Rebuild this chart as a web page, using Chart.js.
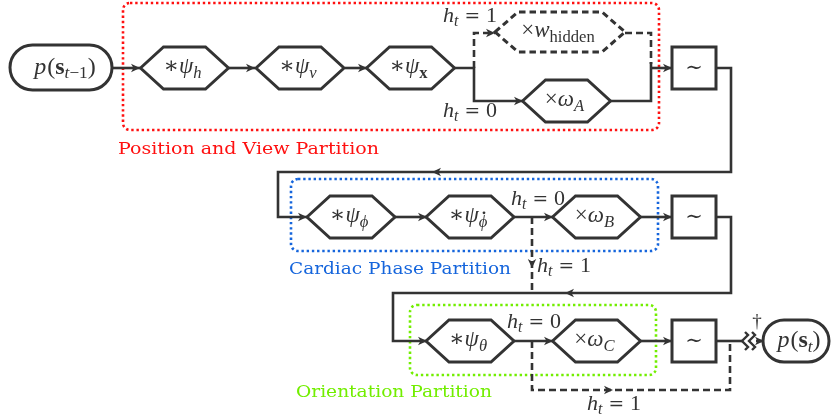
<!DOCTYPE html>
<html>
<head>
<meta charset="utf-8">
<script src="https://cdn.jsdelivr.net/npm/chart.js@4.4.0/dist/chart.umd.min.js"></script>
<style>
  html, body { margin: 0; padding: 0; background: #fff; }
  #wrap { width: 831px; height: 420px; }
</style>
</head>
<body>
<div id="wrap"><canvas id="flow" width="831" height="420"></canvas></div>
<script>
// diagram units = canvas pixels (x right, y down)
var hexIds    = ['psi_h', 'psi_v', 'psi_x', 'w_hidden', 'omega_A', 'psi_phi', 'psi_phidot', 'omega_B', 'psi_theta', 'omega_C'];
var hexX      = [184.5, 300, 410.5, 560, 566.5, 351, 470, 596.5, 470, 596.5];
var hexY      = [68, 68, 68, 32, 101, 217, 217, 217, 341, 341];
var hexDashed = [false, false, false, true, false, false, false, false, false, false];
var hexLabels = [
  [['∗', 'r'], ['ψ', 'i'], ['h', '_i']],
  [['∗', 'r'], ['ψ', 'i'], ['v', '_i']],
  [['∗', 'r'], ['ψ', 'i'], ['x', '_b']],
  [['×', 'r'], ['w', 'i'], ['hidden', '_r']],
  [['×', 'r'], ['ω', 'i'], ['A', '_i']],
  [['∗', 'r'], ['ψ', 'i'], ['ϕ', '_i']],
  [['∗', 'r'], ['ψ', 'i'], ['ϕ', '_d']],
  [['×', 'r'], ['ω', 'i'], ['B', '_i']],
  [['∗', 'r'], ['ψ', 'i'], ['θ', '_i']],
  [['×', 'r'], ['ω', 'i'], ['C', '_i']]
];

var sampleX = [694, 694, 694];
var sampleY = [68, 217, 341];

var termX = [61, 796];
var termY = [67.5, 341];
var termLabels = [
  [['p', 'i', 1], ['(', 'r'], ['s', 'b'], ['t', '_i'], ['−1', '_r'], [')', 'r']],
  [['p', 'i', 1], ['(', 'r'], ['s', 'b'], ['t', '_i'], [')', 'r']]
];

var solidWires = [
  [[112, 68], [140, 68]],
  [[229, 68], [255, 68]],
  [[345, 68], [367, 68]],
  [[454, 68], [474, 68], [474, 101], [523, 101]],
  [[610, 101], [651, 101], [651, 62]],
  [[651, 68], [672, 68]],
  [[716, 68], [731, 68], [731, 172], [278, 172], [278, 217], [307, 217]],
  [[395, 217], [427, 217]],
  [[513, 217], [553, 217]],
  [[640, 217], [672, 217]],
  [[716, 217], [731, 217], [731, 293], [393, 293], [393, 341], [427, 341]],
  [[513, 341], [553, 341]],
  [[640, 341], [672, 341]],
  [[716, 341], [742, 341]],
  [[756, 341], [763, 341]]
];
var dashedWires = [
  [[474, 68], [474, 33], [495, 33]],
  [[625, 33], [651, 33], [651, 64]],
  [[532, 217], [532, 293]],
  [[532, 341], [532, 390], [730, 390], [730, 341]]
];
var arrowTips = [
  [140, 68, 'r'], [255, 68, 'r'], [367, 68, 'r'], [495, 33, 'r'], [523, 101, 'r'], [672, 68, 'r'],
  [432, 172, 'l'], [307, 217, 'r'], [427, 217, 'r'], [553, 217, 'r'], [672, 217, 'r'],
  [565, 293, 'l'], [532, 268, 'd'], [427, 341, 'r'], [553, 341, 'r'], [672, 341, 'r'],
  [613, 390, 'r'], [764, 341, 'r']
];

var switchValues = ['1', '0', '0', '1', '0', '1'];
var switchX      = [443, 443, 511, 537, 507, 587];
var switchY      = [22, 117, 205, 272, 328, 410];

var partitionNames  = ['Position and View Partition', 'Cardiac Phase Partition', 'Orientation Partition'];
var partitionColors = ['#ff1010', '#1565dc', '#72ee00'];
var partitionBoxes  = [[123, 3, 659, 130], [291, 179, 658, 251], [410, 305, 656, 375]];
var partitionText   = [[118, 154, 261], [289, 274, 222], [296, 397, 196]];

var INK = '#333333';
var MATH = '"Liberation Serif", "DejaVu Serif", serif';

function segFont(style, size) {
  if (style === 'e') return (size * 0.85).toFixed(1) + 'px "DejaVu Serif", serif';
  var sub = style.charAt(0) === '_';
  var k = sub ? style.slice(1) : style;
  var s = sub ? size * 0.72 : size;
  var f = (k === 'i' || k === 'd') ? 'italic ' : (k === 'b' ? 'bold ' : '');
  return f + s.toFixed(1) + 'px ' + MATH;
}

function drawMath(ctx, segs, x, y, size, align, color) {
  var widths = [], total = 0;
  segs.forEach(function(sg) {
    ctx.font = segFont(sg[1], size);
    var w = ctx.measureText(sg[0]).width + (sg[2] || 0);
    widths.push(w);
    total += w;
  });
  var cx = align === 'center' ? x - total / 2 : x;
  ctx.fillStyle = color || INK;
  ctx.textBaseline = 'alphabetic';
  ctx.textAlign = 'left';
  segs.forEach(function(sg, i) {
    var sub = sg[1].charAt(0) === '_';
    var yy = sub ? y + size * 0.2 : y;
    ctx.font = segFont(sg[1], size);
    ctx.fillText(sg[0], cx, yy);
    if (sg[1] === '_d') {
      ctx.beginPath();
      ctx.arc(cx + widths[i] * 0.62, yy - size * 0.6, 1.4, 0, Math.PI * 2);
      ctx.fill();
    }
    cx += widths[i];
  });
}

function roundRect(ctx, x0, y0, x1, y1, r) {
  ctx.beginPath();
  ctx.moveTo(x0 + r, y0);
  ctx.lineTo(x1 - r, y0);
  ctx.arcTo(x1, y0, x1, y0 + r, r);
  ctx.lineTo(x1, y1 - r);
  ctx.arcTo(x1, y1, x1 - r, y1, r);
  ctx.lineTo(x0 + r, y1);
  ctx.arcTo(x0, y1, x0, y1 - r, r);
  ctx.lineTo(x0, y0 + r);
  ctx.arcTo(x0, y0, x0 + r, y0, r);
  ctx.closePath();
}

var diagram = {
  id: 'diagram',
  beforeDatasetsDraw: function(chart) {
    var ctx = chart.ctx, X = chart.scales.x, Y = chart.scales.y;
    ctx.save();
    partitionBoxes.forEach(function(b, i) {
      ctx.strokeStyle = partitionColors[i];
      ctx.lineWidth = 2.6;
      ctx.setLineDash([2.4, 2.8]);
      roundRect(ctx, X.getPixelForValue(b[0]), Y.getPixelForValue(b[1]), X.getPixelForValue(b[2]), Y.getPixelForValue(b[3]), 7);
      ctx.stroke();
      // partition caption
      var t = partitionText[i];
      ctx.setLineDash([]);
      ctx.font = '17px "DejaVu Serif", serif';
      var w = ctx.measureText(partitionNames[i]).width;
      ctx.save();
      ctx.translate(X.getPixelForValue(t[0]), Y.getPixelForValue(t[1]));
      ctx.scale(t[2] / w, 1);
      ctx.fillStyle = partitionColors[i];
      ctx.textAlign = 'left';
      ctx.textBaseline = 'alphabetic';
      ctx.fillText(partitionNames[i], 0, 0);
      ctx.restore();
    });
    ctx.restore();
  },
  afterDatasetsDraw: function(chart) {
    var ctx = chart.ctx, X = chart.scales.x, Y = chart.scales.y;
    var px = function(v) { return X.getPixelForValue(v); };
    var py = function(v) { return Y.getPixelForValue(v); };
    ctx.save();
    ctx.lineJoin = 'miter';

    // hexagon operators
    hexIds.forEach(function(id, i) {
      var w = id === 'w_hidden' ? 130 : 88, h = id === 'w_hidden' ? 40 : 42, s = 23;
      var cx = px(hexX[i]), cy = py(hexY[i]);
      ctx.beginPath();
      ctx.moveTo(cx - w / 2, cy);
      ctx.lineTo(cx - w / 2 + s, cy - h / 2);
      ctx.lineTo(cx + w / 2 - s, cy - h / 2);
      ctx.lineTo(cx + w / 2, cy);
      ctx.lineTo(cx + w / 2 - s, cy + h / 2);
      ctx.lineTo(cx - w / 2 + s, cy + h / 2);
      ctx.closePath();
      ctx.fillStyle = '#fff';
      ctx.fill();
      ctx.setLineDash(hexDashed[i] ? [6.5, 4] : []);
      ctx.lineWidth = 3;
      ctx.strokeStyle = INK;
      ctx.stroke();
      ctx.setLineDash([]);
      drawMath(ctx, hexLabels[i], cx - 2, cy + 5, 23, 'center');
    });

    // resampling boxes
    sampleX.forEach(function(x, i) {
      var cx = px(x), cy = py(sampleY[i]);
      ctx.fillStyle = '#fff';
      ctx.fillRect(cx - 22, cy - 21, 44, 42);
      ctx.lineWidth = 3;
      ctx.strokeStyle = INK;
      ctx.strokeRect(cx - 22, cy - 21, 44, 42);
      ctx.fillStyle = INK;
      ctx.font = '21px "DejaVu Serif", serif';
      ctx.textAlign = 'center';
      ctx.textBaseline = 'middle';
      ctx.fillText('∼', cx, cy + 1);
    });

    // start / end terminals
    var termW = [102, 66], termH = [45, 42];
    termX.forEach(function(x, i) {
      var cx = px(x), cy = py(termY[i]), w = termW[i], h = termH[i];
      roundRect(ctx, cx - w / 2, cy - h / 2, cx + w / 2, cy + h / 2, h / 2);
      ctx.fillStyle = '#fff';
      ctx.fill();
      ctx.lineWidth = 3;
      ctx.strokeStyle = INK;
      ctx.stroke();
      drawMath(ctx, termLabels[i], cx + (i === 0 ? 4 : 3), cy + 6, 24, 'center');
    });

    // break mark before the last terminal
    ctx.lineWidth = 2.4;
    ctx.strokeStyle = INK;
    [741, 748].forEach(function(x0) {
      var bx = px(x0), by = py(341);
      ctx.beginPath();
      ctx.moveTo(bx + 4, by - 9);
      ctx.lineTo(bx + 7, by - 6);
      ctx.lineTo(bx + 1, by);
      ctx.lineTo(bx + 7, by + 6);
      ctx.lineTo(bx + 4, by + 9);
      ctx.stroke();
    });
    ctx.fillStyle = INK;
    ctx.font = '19px ' + MATH;
    ctx.textAlign = 'center';
    ctx.textBaseline = 'alphabetic';
    ctx.fillText('†', px(757), py(327));

    // arrow heads
    arrowTips.forEach(function(a) {
      var x = px(a[0]), y = py(a[1]);
      var ang = a[2] === 'r' ? 0 : a[2] === 'l' ? Math.PI : Math.PI / 2;
      ctx.save();
      ctx.translate(x, y);
      ctx.rotate(ang);
      ctx.beginPath();
      ctx.moveTo(0, 0);
      ctx.lineTo(-9, -4.2);
      ctx.lineTo(-6.5, 0);
      ctx.lineTo(-9, 4.2);
      ctx.closePath();
      ctx.fillStyle = INK;
      ctx.fill();
      ctx.restore();
    });

    // switch labels h_t = 0 / 1
    switchValues.forEach(function(v, i) {
      drawMath(ctx, [['h', 'i'], ['t', '_i', 6], ['=', 'e', 6], [v, 'r']], px(switchX[i]), py(switchY[i]), 22, 'left');
    });
    ctx.restore();
  }
};

var datasets = [];
solidWires.forEach(function(w) {
  datasets.push({
    data: w.map(function(p) { return { x: p[0], y: p[1] }; }),
    showLine: true, borderColor: INK, borderWidth: 2.6, pointRadius: 0,
    borderJoinStyle: 'miter', borderCapStyle: 'butt', tension: 0
  });
});
dashedWires.forEach(function(w) {
  datasets.push({
    data: w.map(function(p) { return { x: p[0], y: p[1] }; }),
    showLine: true, borderColor: INK, borderWidth: 2.6, pointRadius: 0, borderDash: [7, 4],
    borderJoinStyle: 'miter', borderCapStyle: 'butt', tension: 0
  });
});

new Chart(document.getElementById('flow'), {
  type: 'scatter',
  data: { datasets: datasets },
  options: {
    responsive: false,
    animation: false,
    events: [],
    layout: { padding: 0 },
    plugins: { legend: { display: false }, tooltip: { enabled: false } },
    scales: {
      x: { type: 'linear', min: 0, max: 831, display: false },
      y: { type: 'linear', min: 0, max: 420, reverse: true, display: false }
    }
  },
  plugins: [diagram]
});
</script>
</body>
</html>
